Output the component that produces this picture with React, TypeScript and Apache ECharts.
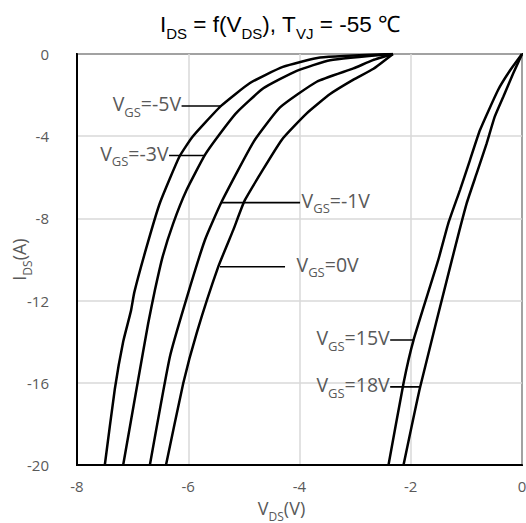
import React, { useEffect, useRef } from 'react';
import * as echarts from 'echarts';

// ---- data (VDS in V, IDS in A) ----
const xTickInterval = 2;
const yTickInterval = 4;

const vgsMinus5: [number, number][] = [
  [-7.5, -20], [-7.32, -16.3], [-7.17, -14.0], [-7.03, -12.5], [-6.97, -11.6],
  [-6.75, -9.4], [-6.51, -7.25], [-6.16, -5.0], [-5.93, -4.05], [-5.7, -3.35],
  [-5.4, -2.5], [-4.89, -1.41], [-4.3, -0.63], [-3.63, -0.17], [-2.32, 0],
];
const vgsMinus3: [number, number][] = [
  [-7.17, -20], [-6.91, -16.0], [-6.72, -13.1], [-6.6, -11.5], [-6.46, -9.86],
  [-6.27, -8.24], [-6.03, -6.62], [-5.7, -4.91], [-5.45, -3.95],
  [-5.13, -2.85], [-4.65, -1.67], [-4.05, -0.82], [-3.45, -0.3], [-2.32, 0],
];
const vgsMinus1: [number, number][] = [
  [-6.69, -20], [-6.33, -14.73], [-6.03, -11.89], [-5.7, -9.05], [-5.4, -7.19],
  [-4.82, -4.25], [-4.35, -2.6], [-3.69, -1.35], [-3.03, -0.7], [-2.68, -0.3], [-2.32, 0],
];
const vgs0: [number, number][] = [
  [-6.4, -20], [-6.09, -16.02], [-5.85, -13.59], [-5.46, -10.35], [-5.19, -8.56],
  [-4.98, -7.1], [-4.32, -4.18], [-3.87, -2.89], [-3.45, -1.95], [-3.03, -1.25],
  [-2.67, -0.72], [-2.32, 0],
];
const vgs15: [number, number][] = [
  [-2.4, -20], [-2.13, -16.02], [-1.95, -13.92], [-1.505, -10.02], [-1.325, -8.24],
  [-1.115, -6.62], [-0.935, -5.16], [-0.755, -3.7], [-0.43, -1.75], [-0.21, -0.78], [0, 0],
];
const vgs18: [number, number][] = [
  [-2.13, -20], [-1.83, -16.19], [-1.26, -10.02], [-0.995, -7.27], [-0.815, -5.81],
  [-0.635, -4.35], [-0.49, -3.05], [-0.336, -2.08], [-0.157, -0.94], [0, 0],
];

// annotation leaders
const leaderLabels = ['-5V', '-3V', '-1V', '0V', '15V', '18V'];
const leaderX1 = [-6.12, -6.345, -5.4, -5.43, -2.37, -2.37];
const leaderX2 = [-5.4, -5.7, -3.99, -4.26, -1.95, -1.83];
const leaderY = [-2.53, -4.94, -7.23, -10.35, -13.92, -16.2];
const leaderSide = ['left', 'left', 'right', 'right', 'left', 'left'];
const leaderGap = [0, 0, 1, 11, 0, 0];

const curves = [vgsMinus5, vgsMinus3, vgsMinus1, vgs0, vgs15, vgs18];

const GRAY = '#595959';
const LABEL_FONT = '"Open Sans", "Noto Sans", sans-serif';
const TITLE_FONT = '"Liberation Sans", Arial, sans-serif';

const mkRich = (big: number, small: number, color: string, family: string, subLH?: number) => ({
  m: { fontSize: big, lineHeight: big + 5, verticalAlign: 'top', color, fontFamily: family, fontWeight: 'normal' },
  s: { fontSize: small, lineHeight: subLH ?? small, verticalAlign: 'bottom', color, fontFamily: family, fontWeight: 'normal' },
});

export default function App() {
  const ref = useRef<HTMLDivElement>(null);
  useEffect(() => {
    document.body.style.margin = '0';
    const chart = echarts.init(ref.current!, null, { renderer: 'svg' });

    const curveSeries = curves.map((d) => ({
      type: 'line',
      data: d,
      showSymbol: false,
      symbol: 'none',
      smooth: 0.15,
      lineStyle: { color: '#000', width: 2.5 },
      silent: true,
      z: 3,
    }));

    const leaderSeries = leaderLabels.map((lab, i) => {
      const side = leaderSide[i];
      const mkLabel = (show: boolean) => ({
        show,
        position: side,
        distance: leaderGap[i],
        formatter: '{m|V}{s|GS}{m|=' + lab + '}',
        rich: mkRich(19.5, 13, GRAY, LABEL_FONT),
      });
      return {
        type: 'line',
        symbol: 'circle',
        symbolSize: 1,
        showSymbol: true,
        itemStyle: { color: 'rgba(0,0,0,0)' },
        lineStyle: { color: '#000', width: 1.6 },
        silent: true,
        z: 4,
        data: [
          { value: [leaderX1[i], leaderY[i]], label: mkLabel(side === 'left') },
          { value: [leaderX2[i], leaderY[i]], label: mkLabel(side === 'right') },
        ],
      };
    });

    chart.setOption({
      animation: false,
      title: {
        text: '{m|I}{s|DS}{m| = f(V}{s|DS}{m|), T}{s|VJ}{m| = -55 ℃}',
        left: 155,
        top: 8,
        textStyle: {
          fontWeight: 'normal',
          rich: mkRich(22.5, 15, '#000', TITLE_FONT, 21),
        },
      },
      grid: {
        left: 77,
        right: 4,
        top: 54,
        bottom: 58,
        show: true,
        borderColor: '#000',
        borderWidth: 2,
        containLabel: false,
        outerBoundsMode: 'none',
      },
      xAxis: {
        type: 'value',
        min: -8,
        max: 0,
        interval: xTickInterval,
        name: '{m|V}{s|DS}{m|(V)}',
        nameLocation: 'middle',
        nameGap: 34,
        nameMoveOverlap: false,
        nameTextStyle: {
          padding: [0, 36, 0, 0],
          rich: mkRich(18, 12, GRAY, LABEL_FONT),
        },
        axisLine: { onZero: false, lineStyle: { color: '#000', width: 2 } },
        axisTick: { show: false },
        axisLabel: { color: GRAY, fontSize: 15, fontFamily: LABEL_FONT, margin: 13 },
        splitLine: { lineStyle: { color: '#d9d9d9', width: 1.5 } },
      },
      yAxis: {
        type: 'value',
        min: -20,
        max: 0,
        interval: yTickInterval,
        name: '{m|I}{s|DS}{m|(A)}',
        nameLocation: 'middle',
        nameGap: 44,
        nameRotate: 90,
        nameMoveOverlap: false,
        nameTextStyle: {
          rich: mkRich(18, 12, GRAY, LABEL_FONT),
        },
        axisLine: { onZero: false, lineStyle: { color: '#000', width: 2 } },
        axisTick: { show: false },
        axisLabel: { color: GRAY, fontSize: 15, fontFamily: LABEL_FONT, margin: 28 },
        splitLine: { lineStyle: { color: '#d9d9d9', width: 1.5 } },
      },
      series: [...curveSeries, ...leaderSeries],
    });
    return () => chart.dispose();
  }, []);
  return <div ref={ref} style={{ width: 526, height: 523 }} />;
}
